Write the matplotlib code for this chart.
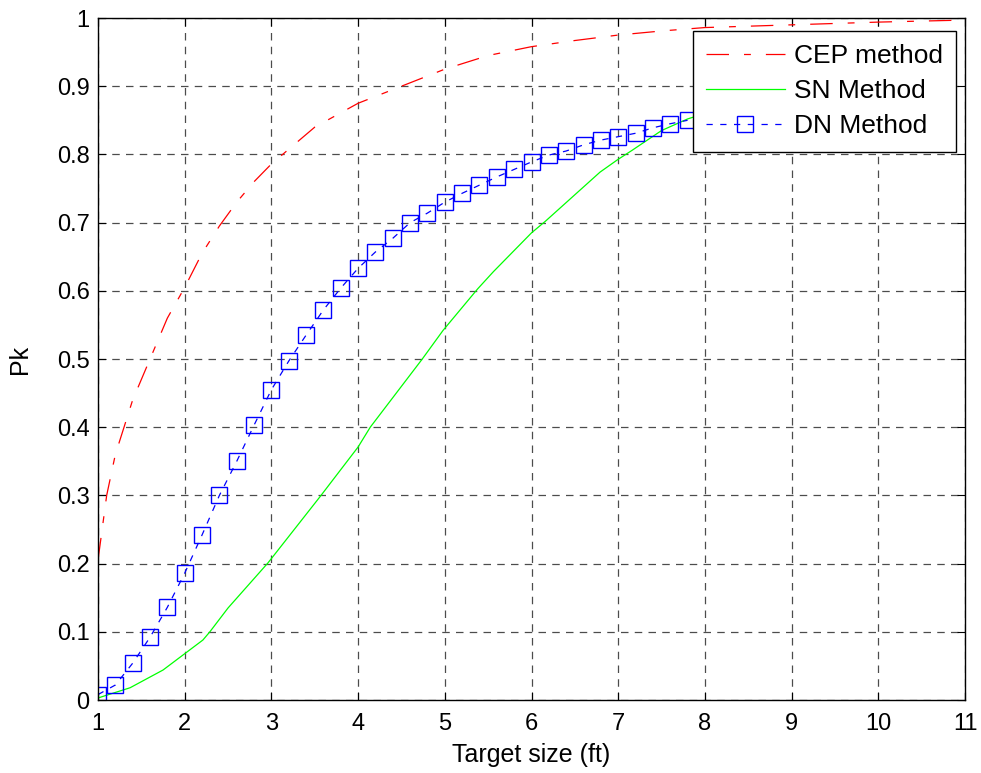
import matplotlib.pyplot as plt

plt.rcParams['font.family'] = ['Liberation Sans', 'DejaVu Sans']

# CEP method (red dash-dot)
cep_x = [1.0, 1.1, 1.2, 1.3, 1.4, 1.6, 1.8, 2.0, 2.2, 2.4, 2.6, 2.8, 3.0,
         3.5, 4.0, 4.5, 5.0, 5.5, 6.0, 6.5, 7.0, 7.5, 8.0, 9.0, 10.0, 11.0]
cep_y = [0.205, 0.30, 0.36, 0.40, 0.44, 0.50, 0.56, 0.605, 0.655, 0.695, 0.73,
         0.76, 0.786, 0.84, 0.875, 0.90, 0.925, 0.945, 0.958, 0.967, 0.975,
         0.981, 0.986, 0.99, 0.994, 0.997]

# SN method (green solid), tail hidden under the legend
sn_x = [1.0, 1.37, 1.75, 2.21, 2.29, 2.5, 2.96, 3.56, 4.0, 4.14, 4.74,
        4.98, 5.38, 5.56, 6.0, 6.16, 6.79, 6.99, 7.16, 7.5, 7.8, 8.0,
        9.0, 10.0]
sn_y = [0.003, 0.018, 0.044, 0.088, 0.10, 0.135, 0.201, 0.298, 0.371, 0.40,
        0.50, 0.542, 0.603, 0.628, 0.685, 0.702, 0.774, 0.792, 0.806, 0.835,
        0.852, 0.86, 0.89, 0.91]

# DN method (blue dashed, squares)
dn_x = [1.0, 1.2, 1.4, 1.6, 1.8, 2.0, 2.2, 2.4, 2.6, 2.8, 3.0, 3.2, 3.4,
        3.6, 3.8, 4.0, 4.2, 4.4, 4.6, 4.8, 5.0, 5.2, 5.4, 5.6, 5.8, 6.0,
        6.2, 6.4, 6.6, 6.8, 7.0, 7.2, 7.4, 7.6, 7.8]
dn_y = [0.008, 0.022, 0.054, 0.092, 0.136, 0.186, 0.242, 0.300, 0.350,
        0.403, 0.455, 0.497, 0.535, 0.572, 0.604, 0.633, 0.657, 0.677,
        0.700, 0.714, 0.730, 0.743, 0.755, 0.767, 0.778, 0.789, 0.799,
        0.805, 0.814, 0.821, 0.826, 0.831, 0.839, 0.845, 0.850]

x_ticks = [1, 2, 3, 4, 5, 6, 7, 8, 9, 10, 11]
y_ticks = [0, 0.1, 0.2, 0.3, 0.4, 0.5, 0.6, 0.7, 0.8, 0.9, 1]
y_labels = ['0', '0.1', '0.2', '0.3', '0.4', '0.5', '0.6', '0.7', '0.8', '0.9', '1']

fig = plt.figure(figsize=(9.81, 7.73), dpi=100)
ax = fig.add_axes([0.0999, 0.0944, 0.8838, 0.8823])

ax.plot(cep_x, cep_y, color='red', linewidth=0.9, dashes=[18, 12, 5.5, 12],
        label='CEP method')
ax.plot(sn_x, sn_y, color='#00ff00', linewidth=0.9, label='SN Method')
ax.plot(dn_x, dn_y, color='blue', linewidth=0.9, dashes=[5, 6],
        marker='s', markersize=12, markerfacecolor='none',
        markeredgecolor='blue', markeredgewidth=1.0, label='DN Method')

ax.set_xlim(1, 11)
ax.set_ylim(0, 1)
ax.set_xticks(x_ticks)
ax.set_yticks(y_ticks)
ax.set_yticklabels(y_labels)
ax.tick_params(direction='in', top=True, right=True, labelsize=17, length=6)
ax.tick_params(axis='x', pad=9)
ax.tick_params(axis='y', pad=6)
ax.grid(True, color='black', linestyle=(0, (6, 5)), linewidth=0.9, alpha=0.7)
for s in ax.spines.values():
    s.set_linewidth(1.0)

ax.set_xlabel('Target size (ft)', fontsize=18, labelpad=6)
ax.set_ylabel('Pk', fontsize=18, labelpad=18)

leg = ax.legend(loc='upper right', bbox_to_anchor=(0.990, 0.981),
                borderaxespad=0, fontsize=19, handlelength=3.0,
                handletextpad=0.35, borderpad=0.5, labelspacing=0.42,
                fancybox=False, framealpha=1, edgecolor='black')
leg.get_frame().set_linewidth(1.0)

fig.savefig('out.png', dpi=100)
